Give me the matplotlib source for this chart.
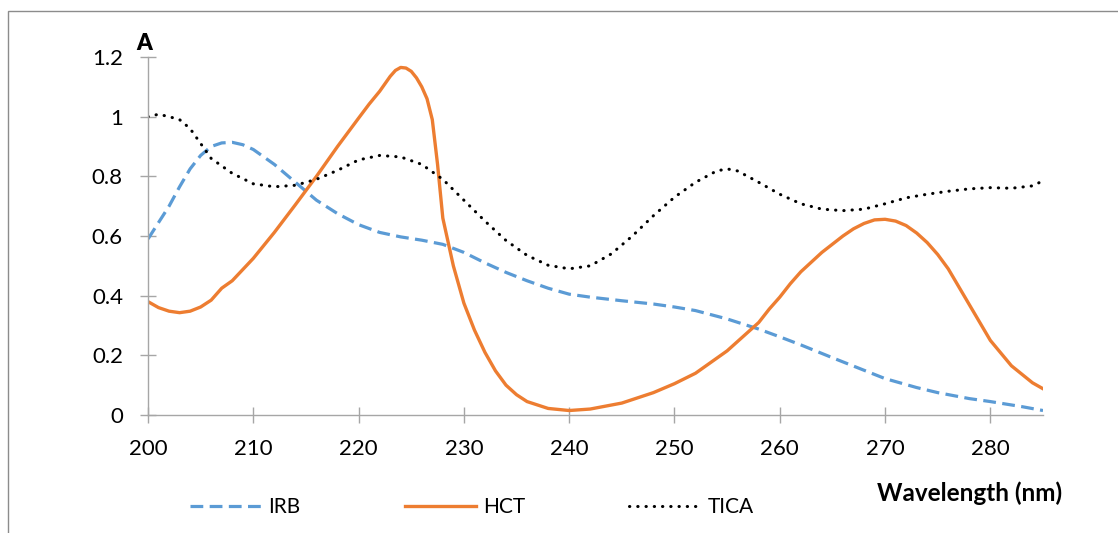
import matplotlib
matplotlib.use("Agg")
import matplotlib.pyplot as plt
from matplotlib.patches import Rectangle

plt.rcParams['font.family'] = ['Lato', 'DejaVu Sans']

# ---- data ----
irb_x = [200, 201, 202, 203, 204, 205, 206, 207, 208, 209, 210, 212, 214, 216, 218, 220, 222, 224, 226, 228,
         230, 232, 234, 236, 238, 240, 242, 245, 248, 250, 252, 255, 258, 260, 262, 265,
         268, 270, 273, 275, 278, 280, 283, 285]
irb_y = [0.59, 0.645, 0.70, 0.765, 0.825, 0.87, 0.9, 0.912, 0.914, 0.906, 0.89, 0.84, 0.78, 0.72, 0.675, 0.638, 0.612, 0.597, 0.586, 0.572,
         0.545, 0.51, 0.478, 0.45, 0.425, 0.405, 0.395, 0.383, 0.372, 0.362, 0.35, 0.322, 0.288, 0.262, 0.235, 0.192,
         0.15, 0.122, 0.092, 0.075, 0.055, 0.045, 0.028, 0.015]

hct_x = [200, 201, 202, 203, 204, 205, 206, 207, 208, 210, 212, 214, 216, 218, 220, 221, 222, 223, 223.5, 224, 224.5, 225,
         225.5, 226, 226.5, 227, 227.5, 228, 228.5, 229, 230, 231, 232, 233, 234, 235, 236, 238, 240, 242, 245,
         248, 250, 252, 255, 258, 259, 260, 261, 262, 264, 266, 267, 268, 269, 270, 271, 272, 273, 274, 275, 276, 278,
         280, 282, 284, 285]
hct_y = [0.38, 0.36, 0.348, 0.343, 0.348, 0.362, 0.385, 0.425, 0.45, 0.525, 0.612, 0.705, 0.8, 0.9, 0.995, 1.042, 1.085, 1.135, 1.155, 1.165, 1.163, 1.152,
         1.13, 1.1, 1.06, 0.99, 0.84, 0.66, 0.58, 0.5, 0.375, 0.285, 0.21, 0.148, 0.1, 0.068, 0.045, 0.022, 0.015, 0.02, 0.04,
         0.075, 0.105, 0.14, 0.215, 0.31, 0.355, 0.395, 0.44, 0.48, 0.545, 0.6, 0.624, 0.642, 0.654, 0.656, 0.65, 0.635, 0.61, 0.578, 0.538, 0.49, 0.37,
         0.25, 0.165, 0.108, 0.088]

tica_x = [200, 201, 202, 203, 204, 205, 206, 208, 210, 212, 214, 216, 218, 220, 222, 224, 226, 228,
          230, 232, 234, 236, 238, 240, 242, 244, 246, 248, 250, 252, 254, 255, 256, 258, 260, 262,
          264, 266, 268, 270, 272, 274, 276, 278, 280, 282, 284, 285]
tica_y = [1.0, 1.008, 1.0, 0.99, 0.96, 0.91, 0.86, 0.81, 0.775, 0.765, 0.77, 0.79, 0.82, 0.855, 0.87, 0.865, 0.84, 0.79,
          0.72, 0.65, 0.585, 0.535, 0.502, 0.49, 0.5, 0.54, 0.6, 0.668, 0.73, 0.78, 0.818, 0.825, 0.818, 0.78, 0.74, 0.708,
          0.69, 0.685, 0.69, 0.708, 0.728, 0.74, 0.75, 0.758, 0.762, 0.76, 0.768, 0.785]

x_ticks = [200, 210, 220, 230, 240, 250, 260, 270, 280]
y_ticks = [0, 0.2, 0.4, 0.6, 0.8, 1.0, 1.2]
y_ticklabels = ['0', '0.2', '0.4', '0.6', '0.8', '1', '1.2']

W, H = 1118, 533
fig = plt.figure(figsize=(W / 100, H / 100), dpi=100)
ax = fig.add_axes([148 / W, 1 - 415 / H, (1043 - 148) / W, (415 - 57) / H])

blue = '#5B9BD5'
orange = '#ED7D31'

l1, = ax.plot(irb_x, irb_y, color=blue, lw=2.3, linestyle=(0, (4, 2)), label='IRB',
              solid_joinstyle='round')
l2, = ax.plot(hct_x, hct_y, color=orange, lw=2.4, label='HCT', solid_joinstyle='round')
l3, = ax.plot(tica_x, tica_y, color='black', lw=2.2, linestyle=(0, (0.1, 2.6)),
              dash_capstyle='round', label='TICA')

ax.set_xlim(200, 285)
ax.set_ylim(0, 1.2)
ax.set_xticks(x_ticks)
ax.set_yticks(y_ticks)
ax.set_yticklabels(y_ticklabels)
for s in ['top', 'right']:
    ax.spines[s].set_visible(False)
for s in ['left', 'bottom']:
    ax.spines[s].set_color('#A6A6A6')
    ax.spines[s].set_linewidth(1.0)
ax.tick_params(axis='both', direction='inout', length=12, width=1.0, color='#A6A6A6',
               labelsize=16, labelcolor='black')
ax.tick_params(axis='y', pad=12)
ax.tick_params(axis='x', pad=11)
ax.patch.set_alpha(0)

fig.text(144 / W, 1 - 43 / H, 'A', fontsize=16, fontweight='heavy', ha='center', va='center')
fig.text(970 / W, 1 - 493 / H, 'Wavelength (nm)', fontsize=17.5, fontweight='bold',
         ha='center', va='center')

fig.legend(handles=[l1, l2, l3], loc='center', bbox_to_anchor=(472 / W, 1 - 507 / H),
           ncol=3, frameon=False, fontsize=15, handlelength=3.4, handletextpad=0.35,
           columnspacing=5.0)

fig.patches.append(Rectangle((8 / W, -0.1), 1.2, 1 - 11 / H + 0.1, transform=fig.transFigure,
                             fill=False, edgecolor='#8C8C8C', linewidth=1.0, figure=fig))

fig.savefig('out.png', dpi=100)
